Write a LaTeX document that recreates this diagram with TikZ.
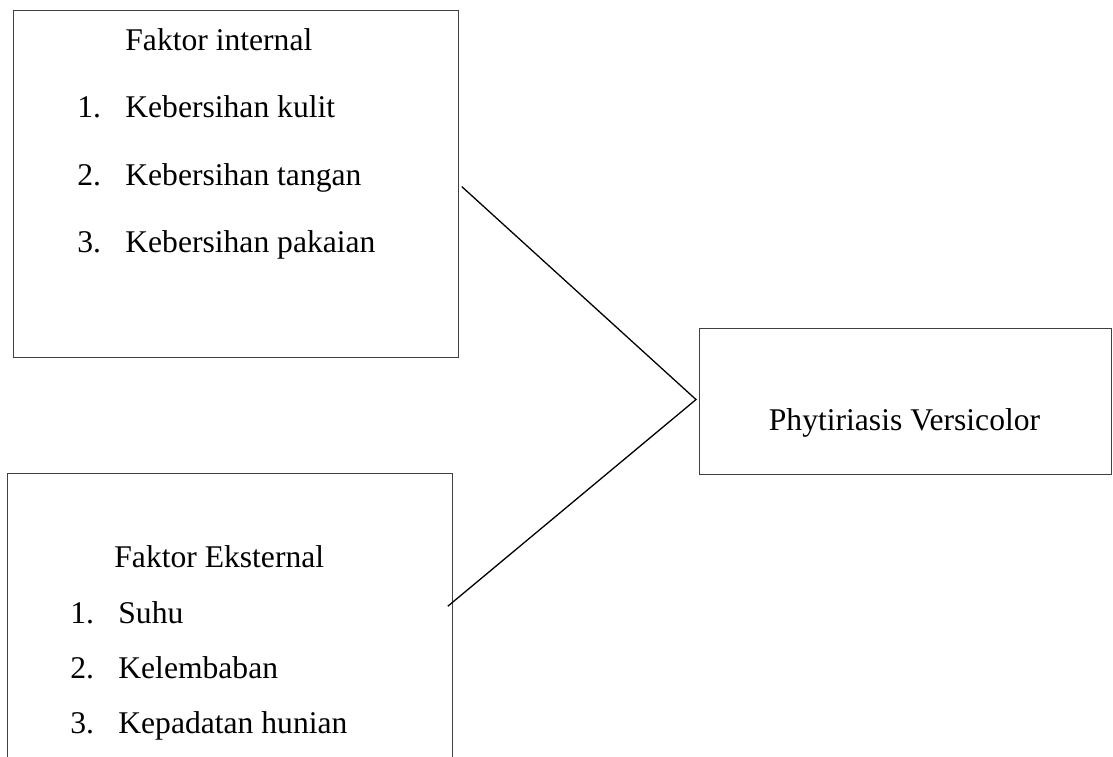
\documentclass[tikz,border=0pt]{standalone}
\usepackage{fontspec}
\setmainfont{Liberation Serif}
\usepackage{tikz}

\begin{document}
\begin{tikzpicture}[x=0.5pt,y=-0.5pt,
  box/.style={draw=black!75,line width=0.55pt,inner sep=0pt,anchor=north west},
  txt/.style={inner sep=0pt,anchor=base west,font=\fontsize{15.8}{19}\selectfont},
  link/.style={line width=0.65pt}]
  \useasboundingbox (0,0) rectangle (1113,756);
  % the three boxes
  \node[box,minimum width=222.5pt,minimum height=173.75pt] (intbox) at (13,9.5) {};
  \node[box,minimum width=205.8pt,minimum height=73pt] (phybox) at (699,328) {};
  \node[box,minimum width=222.5pt,minimum height=148.5pt] (extbox) at (6.7,473) {};
  % texts
  \node[txt] (inthead) at (125,50) {Faktor internal};
  \foreach \i/\y/\t in {1/117/Kebersihan kulit,2/185/Kebersihan tangan,3/252/Kebersihan pakaian}{
    \node[txt] (intnum\i) at (77,\y) {\i.};
    \node[txt] (intitem\i) at (125,\y) {\t};}
  \node[txt] (exthead) at (114,567) {Faktor Eksternal};
  \foreach \i/\y/\t in {1/623/Suhu,2/678/Kelembaban,3/733/Kepadatan hunian}{
    \node[txt] (extnum\i) at (70,\y) {\i.};
    \node[txt] (extitem\i) at (118,\y) {\t};}
  \node[txt,anchor=base] (phytxt) at (904.5,430) {Phytiriasis Versicolor};
  % connectors
  \coordinate (intstart) at ([xshift=1.35pt,yshift=-1.4pt]intbox.east);
  \coordinate (apex) at ([xshift=-1.5pt,yshift=1pt]phybox.west);
  \coordinate (extend) at ([xshift=-2.5pt,yshift=7.9pt]extbox.east);
  \draw[link] (intstart) -- (apex) -- (extend);
\end{tikzpicture}
\end{document}
